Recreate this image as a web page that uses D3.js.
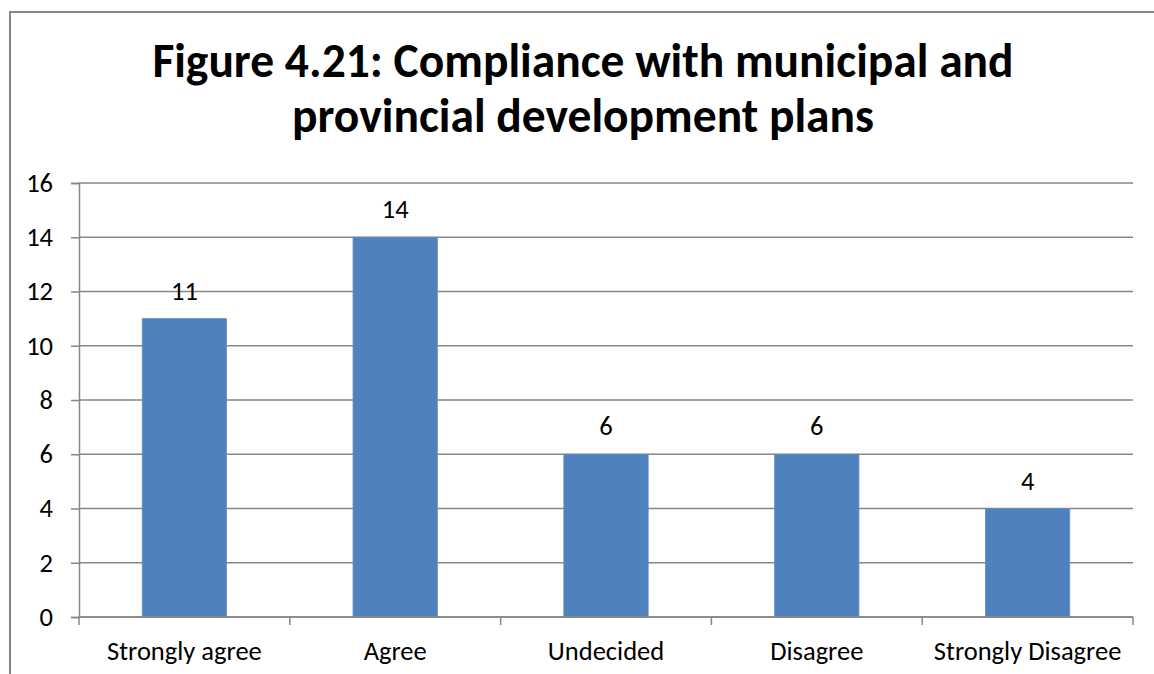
<!DOCTYPE html>
<html>
<head>
<meta charset="utf-8">
<script src="https://cdn.jsdelivr.net/npm/d3@7/dist/d3.min.js"></script>
<style>
  html, body { margin: 0; padding: 0; background: #fff; }
  svg { display: block; }
  text { font-family: Carlito, Calibri, Lato, "Open Sans", sans-serif; fill: #000; }
</style>
</head>
<body>
<svg id="chart" width="1154" height="674"></svg>
<script>
// Survey responses
const categories = ["Strongly agree", "Agree", "Undecided", "Disagree", "Strongly Disagree"];
const counts = [11, 14, 6, 6, 4];
const yTicks = [0, 2, 4, 6, 8, 10, 12, 14, 16];
const titleLines = ["Figure 4.21: Compliance with municipal and", "provincial development plans"];

const W = 1154, H = 674;
const plot = { left: 79, right: 1133, top: 183, bottom: 617 };
const gridColor = "#868686";
const labelSize = 26.5;
const fontStack = "Carlito, Calibri, Lato, 'Open Sans', sans-serif";

const svg = d3.select("#chart");

// chart frame (left and top edges visible)
svg.append("rect")
  .attr("x", 10).attr("y", 12)
  .attr("width", W + 20).attr("height", H + 20)
  .attr("fill", "none").attr("stroke", gridColor).attr("stroke-width", 2);

// title
const title = svg.append("text")
  .attr("text-anchor", "middle")
  .attr("font-weight", "bold")
  .attr("font-size", 47.5);
titleLines.forEach((line, i) => {
  title.append("tspan").attr("x", 583).attr("y", 76.5 + i * 55.5).text(line);
});

const x = d3.scaleBand()
  .domain(categories)
  .range([plot.left, plot.right])
  .paddingInner(0.6)
  .paddingOuter(0.3);

const y = d3.scaleLinear()
  .domain([0, 16])
  .range([plot.bottom, plot.top]);

// horizontal gridlines
svg.append("g")
  .selectAll("line")
  .data(yTicks)
  .join("line")
  .attr("x1", plot.left).attr("x2", plot.right)
  .attr("y1", d => y(d)).attr("y2", d => y(d))
  .attr("stroke", gridColor).attr("stroke-width", 1.5);

// y axis
const yAxis = svg.append("g")
  .attr("transform", `translate(${plot.left},0)`)
  .call(d3.axisLeft(y).tickValues(yTicks).tickSize(8).tickPadding(18));
yAxis.select(".domain").attr("stroke", gridColor).attr("stroke-width", 1.5);
yAxis.selectAll(".tick line").attr("stroke", gridColor).attr("stroke-width", 1.5);
yAxis.selectAll(".tick text")
  .attr("font-size", labelSize)
  .attr("font-family", fontStack)
  .attr("fill", "#000");

const rows = categories.map((c, i) => ({ c, v: counts[i] }));

// bars
svg.append("g")
  .selectAll("rect")
  .data(rows)
  .join("rect")
  .attr("x", d => x(d.c))
  .attr("y", d => y(d.v))
  .attr("width", x.bandwidth())
  .attr("height", d => y(0) - y(d.v))
  .attr("fill", "#4F81BD")
  .attr("stroke", "#6490c6").attr("stroke-width", 0.8);

// value labels
svg.append("g")
  .selectAll("text")
  .data(rows)
  .join("text")
  .attr("x", d => x(d.c) + x.bandwidth() / 2)
  .attr("y", d => y(d.v) - 19)
  .attr("text-anchor", "middle")
  .attr("font-size", labelSize)
  .text(d => d.v);

// x axis baseline with category boundary ticks
const step = x.step();
const boundaries = d3.range(categories.length + 1).map(i => plot.left + i * step);
const xAxis = svg.append("g");
xAxis.append("line")
  .attr("x1", plot.left).attr("x2", plot.right)
  .attr("y1", y(0)).attr("y2", y(0))
  .attr("stroke", gridColor).attr("stroke-width", 1.5);
xAxis.selectAll("line.tick")
  .data(boundaries)
  .join("line")
  .attr("class", "tick")
  .attr("x1", d => d).attr("x2", d => d)
  .attr("y1", y(0)).attr("y2", y(0) + 8)
  .attr("stroke", gridColor).attr("stroke-width", 1.5);
xAxis.selectAll("text")
  .data(categories)
  .join("text")
  .attr("x", d => x(d) + x.bandwidth() / 2)
  .attr("y", 660)
  .attr("text-anchor", "middle")
  .attr("font-size", labelSize)
  .text(d => d);
</script>
</body>
</html>
